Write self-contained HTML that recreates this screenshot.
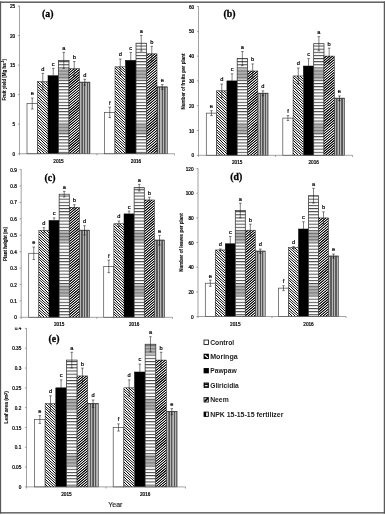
<!DOCTYPE html>
<html><head><meta charset="utf-8"><title>Figure</title>
<style>
html,body{margin:0;padding:0;background:#fff;}
body{width:385px;height:515px;overflow:hidden;}
svg{display:block;}
text{font-family:"Liberation Sans", sans-serif;}
.t{font-size:4.7px;fill:#000;stroke:#000;stroke-width:0.22px;}
.s{font-size:5.7px;fill:#000;stroke:#000;stroke-width:0.2px;text-anchor:middle;}
.yt{font-size:4.45px;font-weight:bold;fill:#111;stroke:#111;stroke-width:0.12px;text-anchor:middle;}
.pl{font-family:"Liberation Serif", serif;font-weight:bold;font-size:9.8px;fill:#000;stroke:#000;stroke-width:0.3px;text-anchor:middle;}
.lg{font-size:7.1px;font-weight:bold;fill:#222;}
</style></head><body>
<svg width="385" height="515" viewBox="0 0 385 515">
<defs>
<pattern id="pG" patternUnits="userSpaceOnUse" width="4" height="3.125" y="1.81">
<rect width="4" height="3.125" fill="#fff"/><rect width="4" height="1.0" fill="#444"/></pattern>
<pattern id="pG2" patternUnits="userSpaceOnUse" width="4" height="3.17" y="2.8">
<rect width="4" height="3.17" fill="#fff"/><rect width="4" height="1.0" fill="#444"/></pattern>
<linearGradient id="pK" x1="0" y1="0" x2="0.25" y2="0" spreadMethod="repeat">
<stop offset="0" stop-color="#555"/><stop offset="0.19" stop-color="#555"/><stop offset="0.30" stop-color="#b6b6b6"/>
<stop offset="0.70" stop-color="#b6b6b6"/><stop offset="0.81" stop-color="#555"/><stop offset="1" stop-color="#555"/></linearGradient>
<linearGradient id="mo1" gradientUnits="userSpaceOnUse" x1="0" y1="0" x2="0" y2="515">

<stop offset="0.13029" stop-color="#888" stop-opacity="0"/>
<stop offset="0.13612" stop-color="#888" stop-opacity="0.66"/>
<stop offset="0.15243" stop-color="#888" stop-opacity="0.66"/>
<stop offset="0.15825" stop-color="#888" stop-opacity="0"/>
<stop offset="0.23573" stop-color="#888" stop-opacity="0"/>
<stop offset="0.24155" stop-color="#888" stop-opacity="0.66"/>
<stop offset="0.25786" stop-color="#888" stop-opacity="0.66"/>
<stop offset="0.26369" stop-color="#888" stop-opacity="0"/>
<stop offset="0.34058" stop-color="#888" stop-opacity="0"/>
<stop offset="0.34641" stop-color="#888" stop-opacity="0.66"/>
<stop offset="0.36272" stop-color="#888" stop-opacity="0.66"/>
<stop offset="0.36854" stop-color="#888" stop-opacity="0"/>
<stop offset="0.44524" stop-color="#888" stop-opacity="0"/>
<stop offset="0.45107" stop-color="#888" stop-opacity="0.66"/>
<stop offset="0.46738" stop-color="#888" stop-opacity="0.66"/>
<stop offset="0.47320" stop-color="#888" stop-opacity="0"/>
<stop offset="0.55010" stop-color="#888" stop-opacity="0"/>
<stop offset="0.55592" stop-color="#888" stop-opacity="0.66"/>
<stop offset="0.57223" stop-color="#888" stop-opacity="0.66"/>
<stop offset="0.57806" stop-color="#888" stop-opacity="0"/>
</linearGradient>
<linearGradient id="mo2" gradientUnits="userSpaceOnUse" x1="0" y1="0" x2="0" y2="515">
<stop offset="0.66214" stop-color="#888" stop-opacity="0"/>
<stop offset="0.66796" stop-color="#888" stop-opacity="0.66"/>
<stop offset="0.68544" stop-color="#888" stop-opacity="0.66"/>
<stop offset="0.69126" stop-color="#888" stop-opacity="0"/>
<stop offset="0.77087" stop-color="#888" stop-opacity="0"/>
<stop offset="0.77670" stop-color="#888" stop-opacity="0.66"/>
<stop offset="0.79417" stop-color="#888" stop-opacity="0.66"/>
<stop offset="0.80000" stop-color="#888" stop-opacity="0"/>
<stop offset="0.87981" stop-color="#888" stop-opacity="0"/>
<stop offset="0.88563" stop-color="#888" stop-opacity="0.66"/>
<stop offset="0.90311" stop-color="#888" stop-opacity="0.66"/>
<stop offset="0.90893" stop-color="#888" stop-opacity="0"/>
</linearGradient>
<clipPath id="cl04"><rect x="0" y="327.4" width="30" height="10"/></clipPath>
<filter id="soft" x="-2%" y="-2%" width="104%" height="104%"><feGaussianBlur stdDeviation="0.26"/></filter><filter id="contrast" x="0" y="0" width="100%" height="100%" color-interpolation-filters="sRGB"><feComponentTransfer><feFuncR type="linear" slope="1.7" intercept="-0.32"/><feFuncG type="linear" slope="1.7" intercept="-0.32"/><feFuncB type="linear" slope="1.7" intercept="-0.32"/></feComponentTransfer></filter><filter id="contrast2" x="0" y="0" width="100%" height="100%" color-interpolation-filters="sRGB"><feComponentTransfer><feFuncR type="linear" slope="1.35" intercept="-0.16"/><feFuncG type="linear" slope="1.35" intercept="-0.16"/><feFuncB type="linear" slope="1.35" intercept="-0.16"/></feComponentTransfer></filter><filter id="softb" x="-2%" y="-2%" width="104%" height="104%"><feGaussianBlur stdDeviation="0.01"/></filter>
</defs>
<rect width="385" height="515" fill="#fff"/>
<g filter="url(#softb)"><rect x="27.00" y="103.52" width="10.50" height="50.23" fill="#fff" stroke="#4a4a4a" stroke-width="0.7"/>
<rect x="48.00" y="75.74" width="10.50" height="78.01" fill="#000" stroke="#000" stroke-width="0.5"/>
<rect x="58.50" y="60.37" width="10.50" height="93.38" fill="url(#pG)"/>
<rect x="58.50" y="60.37" width="10.50" height="93.38" fill="url(#mo1)"/>
<rect x="58.50" y="60.37" width="10.50" height="93.38" fill="none" stroke="#333" stroke-width="0.75"/>
<rect x="79.50" y="82.24" width="10.50" height="71.51" fill="url(#pK)" stroke="#444" stroke-width="0.5"/><path d="M79.50 82.24h10.50" stroke="#333" stroke-width="0.8"/>
<rect x="104.50" y="112.38" width="10.50" height="41.37" fill="#fff" stroke="#4a4a4a" stroke-width="0.7"/>
<rect x="125.50" y="60.37" width="10.50" height="93.38" fill="#000" stroke="#000" stroke-width="0.5"/>
<rect x="136.00" y="43.23" width="10.50" height="110.52" fill="url(#pG)"/>
<rect x="136.00" y="43.23" width="10.50" height="110.52" fill="url(#mo1)"/>
<rect x="136.00" y="43.23" width="10.50" height="110.52" fill="none" stroke="#333" stroke-width="0.75"/>
<rect x="157.00" y="86.97" width="10.50" height="66.78" fill="url(#pK)" stroke="#444" stroke-width="0.5"/><path d="M157.00 86.97h10.50" stroke="#333" stroke-width="0.8"/>
<rect x="206.30" y="113.14" width="10.30" height="42.16" fill="#fff" stroke="#4a4a4a" stroke-width="0.7"/>
<rect x="226.90" y="80.90" width="10.30" height="74.40" fill="#000" stroke="#000" stroke-width="0.5"/>
<rect x="237.20" y="58.58" width="10.30" height="96.72" fill="url(#pG)"/>
<rect x="237.20" y="58.58" width="10.30" height="96.72" fill="url(#mo1)"/>
<rect x="237.20" y="58.58" width="10.30" height="96.72" fill="none" stroke="#333" stroke-width="0.75"/>
<rect x="257.80" y="93.30" width="10.30" height="62.00" fill="url(#pK)" stroke="#444" stroke-width="0.5"/><path d="M257.80 93.30h10.30" stroke="#333" stroke-width="0.8"/>
<rect x="282.80" y="118.10" width="10.30" height="37.20" fill="#fff" stroke="#4a4a4a" stroke-width="0.7"/>
<rect x="303.40" y="66.02" width="10.30" height="89.28" fill="#000" stroke="#000" stroke-width="0.5"/>
<rect x="313.70" y="43.70" width="10.30" height="111.60" fill="url(#pG)"/>
<rect x="313.70" y="43.70" width="10.30" height="111.60" fill="url(#mo1)"/>
<rect x="313.70" y="43.70" width="10.30" height="111.60" fill="none" stroke="#333" stroke-width="0.75"/>
<rect x="334.30" y="98.26" width="10.30" height="57.04" fill="url(#pK)" stroke="#444" stroke-width="0.5"/><path d="M334.30 98.26h10.30" stroke="#333" stroke-width="0.8"/>
<rect x="28.70" y="253.30" width="10.15" height="64.00" fill="#fff" stroke="#4a4a4a" stroke-width="0.7"/>
<rect x="49.00" y="220.47" width="10.15" height="96.83" fill="#000" stroke="#000" stroke-width="0.5"/>
<rect x="59.15" y="194.22" width="10.15" height="123.08" fill="url(#pG)"/>
<rect x="59.15" y="194.22" width="10.15" height="123.08" fill="url(#mo1)"/>
<rect x="59.15" y="194.22" width="10.15" height="123.08" fill="none" stroke="#333" stroke-width="0.75"/>
<rect x="79.45" y="230.32" width="10.15" height="86.98" fill="url(#pK)" stroke="#444" stroke-width="0.5"/><path d="M79.45 230.32h10.15" stroke="#333" stroke-width="0.8"/>
<rect x="103.70" y="266.43" width="10.15" height="50.87" fill="#fff" stroke="#4a4a4a" stroke-width="0.7"/>
<rect x="124.00" y="213.91" width="10.15" height="103.39" fill="#000" stroke="#000" stroke-width="0.5"/>
<rect x="134.15" y="187.65" width="10.15" height="129.65" fill="url(#pG)"/>
<rect x="134.15" y="187.65" width="10.15" height="129.65" fill="url(#mo1)"/>
<rect x="134.15" y="187.65" width="10.15" height="129.65" fill="none" stroke="#333" stroke-width="0.75"/>
<rect x="154.45" y="240.17" width="10.15" height="77.13" fill="url(#pK)" stroke="#444" stroke-width="0.5"/><path d="M154.45 240.17h10.15" stroke="#333" stroke-width="0.8"/>
<rect x="205.30" y="283.22" width="10.00" height="33.28" fill="#fff" stroke="#4a4a4a" stroke-width="0.7"/>
<rect x="225.30" y="243.78" width="10.00" height="72.72" fill="#000" stroke="#000" stroke-width="0.5"/>
<rect x="235.30" y="210.50" width="10.00" height="106.00" fill="url(#pG)"/>
<rect x="235.30" y="210.50" width="10.00" height="106.00" fill="url(#mo1)"/>
<rect x="235.30" y="210.50" width="10.00" height="106.00" fill="none" stroke="#333" stroke-width="0.75"/>
<rect x="255.30" y="251.18" width="10.00" height="65.32" fill="url(#pK)" stroke="#444" stroke-width="0.5"/><path d="M255.30 251.18h10.00" stroke="#333" stroke-width="0.8"/>
<rect x="278.50" y="288.15" width="10.00" height="28.35" fill="#fff" stroke="#4a4a4a" stroke-width="0.7"/>
<rect x="298.50" y="228.99" width="10.00" height="87.51" fill="#000" stroke="#000" stroke-width="0.5"/>
<rect x="308.50" y="195.71" width="10.00" height="120.79" fill="url(#pG)"/>
<rect x="308.50" y="195.71" width="10.00" height="120.79" fill="url(#mo1)"/>
<rect x="308.50" y="195.71" width="10.00" height="120.79" fill="none" stroke="#333" stroke-width="0.75"/>
<rect x="328.50" y="256.11" width="10.00" height="60.39" fill="url(#pK)" stroke="#444" stroke-width="0.5"/><path d="M328.50 256.11h10.00" stroke="#333" stroke-width="0.8"/>
<rect x="34.50" y="419.54" width="10.65" height="67.36" fill="#fff" stroke="#4a4a4a" stroke-width="0.7"/>
<rect x="55.80" y="387.84" width="10.65" height="99.06" fill="#000" stroke="#000" stroke-width="0.5"/>
<rect x="66.45" y="360.10" width="10.65" height="126.80" fill="url(#pG2)"/>
<rect x="66.45" y="360.10" width="10.65" height="126.80" fill="url(#mo2)"/>
<rect x="66.45" y="360.10" width="10.65" height="126.80" fill="none" stroke="#333" stroke-width="0.75"/>
<rect x="87.75" y="403.69" width="10.65" height="83.21" fill="url(#pK)" stroke="#444" stroke-width="0.5"/><path d="M87.75 403.69h10.65" stroke="#333" stroke-width="0.8"/>
<rect x="113.20" y="427.46" width="10.65" height="59.44" fill="#fff" stroke="#4a4a4a" stroke-width="0.7"/>
<rect x="134.50" y="371.99" width="10.65" height="114.91" fill="#000" stroke="#000" stroke-width="0.5"/>
<rect x="145.15" y="344.25" width="10.65" height="142.65" fill="url(#pG2)"/>
<rect x="145.15" y="344.25" width="10.65" height="142.65" fill="url(#mo2)"/>
<rect x="145.15" y="344.25" width="10.65" height="142.65" fill="none" stroke="#333" stroke-width="0.75"/>
<rect x="166.45" y="411.61" width="10.65" height="75.29" fill="url(#pK)" stroke="#444" stroke-width="0.5"/><path d="M166.45 411.61h10.65" stroke="#333" stroke-width="0.8"/>
<rect x="204.0" y="340.05" width="4.5" height="4.5" fill="#fff" stroke="#111" stroke-width="0.85"/>
<rect x="203.6" y="353.75" width="5.3" height="5.3" fill="#000"/><path d="M205.20 355.45L207.50 357.45" stroke="#fff" stroke-width="1.15" stroke-linecap="round"/>
<rect x="203.6" y="368.05" width="5.3" height="5.3" fill="#000"/>
<rect x="203.6" y="382.55" width="5.3" height="5.3" fill="#000"/><rect x="204.80" y="385.15" width="2.9" height="1.1" fill="#fff"/><rect x="204.80" y="383.65" width="2.9" height="0.45" fill="#999"/>
<rect x="204.0" y="397.55" width="4.5" height="4.5" fill="#c8c8c8" stroke="#222" stroke-width="0.85"/><path d="M204.60 401.45L207.90 398.15" stroke="#000" stroke-width="1.6"/>
<rect x="204.0" y="412.05" width="4.5" height="4.5" fill="#d8d8d8" stroke="#111" stroke-width="0.85"/><rect x="204.00" y="412.05" width="2.0" height="4.5" fill="#000"/></g><g filter="url(#contrast)"><clipPath id="c1"><rect x="37.50" y="81.65" width="10.50" height="72.10"/></clipPath><rect x="37.50" y="81.65" width="10.50" height="72.10" fill="#fff"/><path clip-path="url(#c1)" d="M37.00 71.11L48.50 81.47M37.00 73.63L48.50 83.99M37.00 76.15L48.50 86.51M37.00 78.67L48.50 89.03M37.00 81.19L48.50 91.55M37.00 83.71L48.50 94.07M37.00 86.23L48.50 96.59M37.00 88.75L48.50 99.11M37.00 91.27L48.50 101.63M37.00 93.79L48.50 104.15M37.00 96.31L48.50 106.67M37.00 98.83L48.50 109.19M37.00 101.35L48.50 111.71M37.00 103.87L48.50 114.23M37.00 106.39L48.50 116.75M37.00 108.91L48.50 119.27M37.00 111.43L48.50 121.79M37.00 113.95L48.50 124.31M37.00 116.47L48.50 126.83M37.00 118.99L48.50 129.35M37.00 121.51L48.50 131.87M37.00 124.03L48.50 134.39M37.00 126.55L48.50 136.91M37.00 129.07L48.50 139.43M37.00 131.59L48.50 141.95M37.00 134.11L48.50 144.47M37.00 136.63L48.50 146.99M37.00 139.15L48.50 149.51M37.00 141.67L48.50 152.03M37.00 144.19L48.50 154.55M37.00 146.71L48.50 157.07M37.00 149.23L48.50 159.59M37.00 151.75L48.50 162.11M37.00 154.27L48.50 164.63" stroke="#000" stroke-width="0.97" fill="none"/>
<clipPath id="c3"><rect x="115.00" y="66.87" width="10.50" height="86.88"/></clipPath><rect x="115.00" y="66.87" width="10.50" height="86.88" fill="#fff"/><path clip-path="url(#c3)" d="M114.50 57.74L126.00 68.09M114.50 60.26L126.00 70.61M114.50 62.78L126.00 73.13M114.50 65.30L126.00 75.65M114.50 67.82L126.00 78.17M114.50 70.34L126.00 80.69M114.50 72.86L126.00 83.21M114.50 75.38L126.00 85.73M114.50 77.90L126.00 88.25M114.50 80.42L126.00 90.77M114.50 82.94L126.00 93.29M114.50 85.46L126.00 95.81M114.50 87.98L126.00 98.33M114.50 90.50L126.00 100.85M114.50 93.02L126.00 103.37M114.50 95.54L126.00 105.89M114.50 98.06L126.00 108.41M114.50 100.58L126.00 110.93M114.50 103.10L126.00 113.45M114.50 105.62L126.00 115.97M114.50 108.14L126.00 118.49M114.50 110.66L126.00 121.01M114.50 113.18L126.00 123.53M114.50 115.70L126.00 126.05M114.50 118.22L126.00 128.57M114.50 120.74L126.00 131.09M114.50 123.26L126.00 133.61M114.50 125.78L126.00 136.13M114.50 128.30L126.00 138.65M114.50 130.82L126.00 141.17M114.50 133.34L126.00 143.69M114.50 135.86L126.00 146.21M114.50 138.38L126.00 148.73M114.50 140.90L126.00 151.25M114.50 143.42L126.00 153.77M114.50 145.94L126.00 156.29M114.50 148.46L126.00 158.81M114.50 150.98L126.00 161.33M114.50 153.50L126.00 163.85" stroke="#000" stroke-width="0.97" fill="none"/>
<clipPath id="c5"><rect x="216.60" y="90.82" width="10.30" height="64.48"/></clipPath><rect x="216.60" y="90.82" width="10.30" height="64.48" fill="#fff"/><path clip-path="url(#c5)" d="M216.10 81.18L227.40 91.35M216.10 83.70L227.40 93.87M216.10 86.22L227.40 96.39M216.10 88.74L227.40 98.91M216.10 91.26L227.40 101.43M216.10 93.78L227.40 103.95M216.10 96.30L227.40 106.47M216.10 98.82L227.40 108.99M216.10 101.34L227.40 111.51M216.10 103.86L227.40 114.03M216.10 106.38L227.40 116.55M216.10 108.90L227.40 119.07M216.10 111.42L227.40 121.59M216.10 113.94L227.40 124.11M216.10 116.46L227.40 126.63M216.10 118.98L227.40 129.15M216.10 121.50L227.40 131.67M216.10 124.02L227.40 134.19M216.10 126.54L227.40 136.71M216.10 129.06L227.40 139.23M216.10 131.58L227.40 141.75M216.10 134.10L227.40 144.27M216.10 136.62L227.40 146.79M216.10 139.14L227.40 149.31M216.10 141.66L227.40 151.83M216.10 144.18L227.40 154.35M216.10 146.70L227.40 156.87M216.10 149.22L227.40 159.39M216.10 151.74L227.40 161.91M216.10 154.26L227.40 164.43" stroke="#000" stroke-width="0.97" fill="none"/>
<clipPath id="c7"><rect x="293.10" y="75.94" width="10.30" height="79.36"/></clipPath><rect x="293.10" y="75.94" width="10.30" height="79.36" fill="#fff"/><path clip-path="url(#c7)" d="M292.60 66.90L303.90 77.07M292.60 69.42L303.90 79.59M292.60 71.94L303.90 82.11M292.60 74.46L303.90 84.63M292.60 76.98L303.90 87.15M292.60 79.50L303.90 89.67M292.60 82.02L303.90 92.19M292.60 84.54L303.90 94.71M292.60 87.06L303.90 97.23M292.60 89.58L303.90 99.75M292.60 92.10L303.90 102.27M292.60 94.62L303.90 104.79M292.60 97.14L303.90 107.31M292.60 99.66L303.90 109.83M292.60 102.18L303.90 112.35M292.60 104.70L303.90 114.87M292.60 107.22L303.90 117.39M292.60 109.74L303.90 119.91M292.60 112.26L303.90 122.43M292.60 114.78L303.90 124.95M292.60 117.30L303.90 127.47M292.60 119.82L303.90 129.99M292.60 122.34L303.90 132.51M292.60 124.86L303.90 135.03M292.60 127.38L303.90 137.55M292.60 129.90L303.90 140.07M292.60 132.42L303.90 142.59M292.60 134.94L303.90 145.11M292.60 137.46L303.90 147.63M292.60 139.98L303.90 150.15M292.60 142.50L303.90 152.67M292.60 145.02L303.90 155.19M292.60 147.54L303.90 157.71M292.60 150.06L303.90 160.23M292.60 152.58L303.90 162.75M292.60 155.10L303.90 165.27" stroke="#000" stroke-width="0.97" fill="none"/>
<clipPath id="c9"><rect x="38.85" y="230.32" width="10.15" height="86.98"/></clipPath><rect x="38.85" y="230.32" width="10.15" height="86.98" fill="#fff"/><path clip-path="url(#c9)" d="M38.35 221.01L49.50 231.05M38.35 223.53L49.50 233.57M38.35 226.05L49.50 236.09M38.35 228.57L49.50 238.61M38.35 231.09L49.50 241.13M38.35 233.61L49.50 243.65M38.35 236.13L49.50 246.17M38.35 238.65L49.50 248.69M38.35 241.17L49.50 251.21M38.35 243.69L49.50 253.73M38.35 246.21L49.50 256.25M38.35 248.73L49.50 258.77M38.35 251.25L49.50 261.29M38.35 253.77L49.50 263.81M38.35 256.29L49.50 266.33M38.35 258.81L49.50 268.85M38.35 261.33L49.50 271.37M38.35 263.85L49.50 273.89M38.35 266.37L49.50 276.41M38.35 268.89L49.50 278.93M38.35 271.41L49.50 281.45M38.35 273.93L49.50 283.97M38.35 276.45L49.50 286.49M38.35 278.97L49.50 289.01M38.35 281.49L49.50 291.53M38.35 284.01L49.50 294.05M38.35 286.53L49.50 296.57M38.35 289.05L49.50 299.09M38.35 291.57L49.50 301.61M38.35 294.09L49.50 304.13M38.35 296.61L49.50 306.65M38.35 299.13L49.50 309.17M38.35 301.65L49.50 311.69M38.35 304.17L49.50 314.21M38.35 306.69L49.50 316.73M38.35 309.21L49.50 319.25M38.35 311.73L49.50 321.77M38.35 314.25L49.50 324.29M38.35 316.77L49.50 326.81" stroke="#000" stroke-width="0.97" fill="none"/>
<clipPath id="c11"><rect x="113.85" y="223.76" width="10.15" height="93.54"/></clipPath><rect x="113.85" y="223.76" width="10.15" height="93.54" fill="#fff"/><path clip-path="url(#c11)" d="M113.35 215.46L124.50 225.50M113.35 217.98L124.50 228.02M113.35 220.50L124.50 230.54M113.35 223.02L124.50 233.06M113.35 225.54L124.50 235.58M113.35 228.06L124.50 238.10M113.35 230.58L124.50 240.62M113.35 233.10L124.50 243.14M113.35 235.62L124.50 245.66M113.35 238.14L124.50 248.18M113.35 240.66L124.50 250.70M113.35 243.18L124.50 253.22M113.35 245.70L124.50 255.74M113.35 248.22L124.50 258.26M113.35 250.74L124.50 260.78M113.35 253.26L124.50 263.30M113.35 255.78L124.50 265.82M113.35 258.30L124.50 268.34M113.35 260.82L124.50 270.86M113.35 263.34L124.50 273.38M113.35 265.86L124.50 275.90M113.35 268.38L124.50 278.42M113.35 270.90L124.50 280.94M113.35 273.42L124.50 283.46M113.35 275.94L124.50 285.98M113.35 278.46L124.50 288.50M113.35 280.98L124.50 291.02M113.35 283.50L124.50 293.54M113.35 286.02L124.50 296.06M113.35 288.54L124.50 298.58M113.35 291.06L124.50 301.10M113.35 293.58L124.50 303.62M113.35 296.10L124.50 306.14M113.35 298.62L124.50 308.66M113.35 301.14L124.50 311.18M113.35 303.66L124.50 313.70M113.35 306.18L124.50 316.22M113.35 308.70L124.50 318.74M113.35 311.22L124.50 321.26M113.35 313.74L124.50 323.78M113.35 316.26L124.50 326.30" stroke="#000" stroke-width="0.97" fill="none"/>
<clipPath id="c13"><rect x="215.30" y="249.94" width="10.00" height="66.56"/></clipPath><rect x="215.30" y="249.94" width="10.00" height="66.56" fill="#fff"/><path clip-path="url(#c13)" d="M214.80 241.29L225.80 251.19M214.80 243.81L225.80 253.71M214.80 246.33L225.80 256.23M214.80 248.85L225.80 258.75M214.80 251.37L225.80 261.27M214.80 253.89L225.80 263.79M214.80 256.41L225.80 266.31M214.80 258.93L225.80 268.83M214.80 261.45L225.80 271.35M214.80 263.97L225.80 273.87M214.80 266.49L225.80 276.39M214.80 269.01L225.80 278.91M214.80 271.53L225.80 281.43M214.80 274.05L225.80 283.95M214.80 276.57L225.80 286.47M214.80 279.09L225.80 288.99M214.80 281.61L225.80 291.51M214.80 284.13L225.80 294.03M214.80 286.65L225.80 296.55M214.80 289.17L225.80 299.07M214.80 291.69L225.80 301.59M214.80 294.21L225.80 304.11M214.80 296.73L225.80 306.63M214.80 299.25L225.80 309.15M214.80 301.77L225.80 311.67M214.80 304.29L225.80 314.19M214.80 306.81L225.80 316.71M214.80 309.33L225.80 319.23M214.80 311.85L225.80 321.75M214.80 314.37L225.80 324.27M214.80 316.89L225.80 326.79" stroke="#000" stroke-width="0.97" fill="none"/>
<clipPath id="c15"><rect x="288.50" y="247.48" width="10.00" height="69.02"/></clipPath><rect x="288.50" y="247.48" width="10.00" height="69.02" fill="#fff"/><path clip-path="url(#c15)" d="M288.00 239.16L299.00 249.06M288.00 241.68L299.00 251.58M288.00 244.20L299.00 254.10M288.00 246.72L299.00 256.62M288.00 249.24L299.00 259.14M288.00 251.76L299.00 261.66M288.00 254.28L299.00 264.18M288.00 256.80L299.00 266.70M288.00 259.32L299.00 269.22M288.00 261.84L299.00 271.74M288.00 264.36L299.00 274.26M288.00 266.88L299.00 276.78M288.00 269.40L299.00 279.30M288.00 271.92L299.00 281.82M288.00 274.44L299.00 284.34M288.00 276.96L299.00 286.86M288.00 279.48L299.00 289.38M288.00 282.00L299.00 291.90M288.00 284.52L299.00 294.42M288.00 287.04L299.00 296.94M288.00 289.56L299.00 299.46M288.00 292.08L299.00 301.98M288.00 294.60L299.00 304.50M288.00 297.12L299.00 307.02M288.00 299.64L299.00 309.54M288.00 302.16L299.00 312.06M288.00 304.68L299.00 314.58M288.00 307.20L299.00 317.10M288.00 309.72L299.00 319.62M288.00 312.24L299.00 322.14M288.00 314.76L299.00 324.66" stroke="#000" stroke-width="0.97" fill="none"/>
<clipPath id="c17"><rect x="45.15" y="403.69" width="10.65" height="83.21"/></clipPath><rect x="45.15" y="403.69" width="10.65" height="83.21" fill="#fff"/><path clip-path="url(#c17)" d="M44.65 393.00L56.30 403.49M44.65 395.52L56.30 406.01M44.65 398.04L56.30 408.53M44.65 400.56L56.30 411.05M44.65 403.08L56.30 413.57M44.65 405.60L56.30 416.09M44.65 408.12L56.30 418.61M44.65 410.64L56.30 421.13M44.65 413.16L56.30 423.65M44.65 415.68L56.30 426.17M44.65 418.20L56.30 428.69M44.65 420.72L56.30 431.21M44.65 423.24L56.30 433.73M44.65 425.76L56.30 436.25M44.65 428.28L56.30 438.77M44.65 430.80L56.30 441.29M44.65 433.32L56.30 443.81M44.65 435.84L56.30 446.33M44.65 438.36L56.30 448.85M44.65 440.88L56.30 451.37M44.65 443.40L56.30 453.89M44.65 445.92L56.30 456.41M44.65 448.44L56.30 458.93M44.65 450.96L56.30 461.45M44.65 453.48L56.30 463.97M44.65 456.00L56.30 466.49M44.65 458.52L56.30 469.01M44.65 461.04L56.30 471.53M44.65 463.56L56.30 474.05M44.65 466.08L56.30 476.57M44.65 468.60L56.30 479.09M44.65 471.12L56.30 481.61M44.65 473.64L56.30 484.13M44.65 476.16L56.30 486.65M44.65 478.68L56.30 489.17M44.65 481.20L56.30 491.69M44.65 483.72L56.30 494.21M44.65 486.24L56.30 496.73" stroke="#000" stroke-width="0.97" fill="none"/>
<clipPath id="c19"><rect x="123.85" y="387.84" width="10.65" height="99.06"/></clipPath><rect x="123.85" y="387.84" width="10.65" height="99.06" fill="#fff"/><path clip-path="url(#c19)" d="M123.35 378.18L135.00 388.67M123.35 380.70L135.00 391.19M123.35 383.22L135.00 393.71M123.35 385.74L135.00 396.23M123.35 388.26L135.00 398.75M123.35 390.78L135.00 401.27M123.35 393.30L135.00 403.79M123.35 395.82L135.00 406.31M123.35 398.34L135.00 408.83M123.35 400.86L135.00 411.35M123.35 403.38L135.00 413.87M123.35 405.90L135.00 416.39M123.35 408.42L135.00 418.91M123.35 410.94L135.00 421.43M123.35 413.46L135.00 423.95M123.35 415.98L135.00 426.47M123.35 418.50L135.00 428.99M123.35 421.02L135.00 431.51M123.35 423.54L135.00 434.03M123.35 426.06L135.00 436.55M123.35 428.58L135.00 439.07M123.35 431.10L135.00 441.59M123.35 433.62L135.00 444.11M123.35 436.14L135.00 446.63M123.35 438.66L135.00 449.15M123.35 441.18L135.00 451.67M123.35 443.70L135.00 454.19M123.35 446.22L135.00 456.71M123.35 448.74L135.00 459.23M123.35 451.26L135.00 461.75M123.35 453.78L135.00 464.27M123.35 456.30L135.00 466.79M123.35 458.82L135.00 469.31M123.35 461.34L135.00 471.83M123.35 463.86L135.00 474.35M123.35 466.38L135.00 476.87M123.35 468.90L135.00 479.39M123.35 471.42L135.00 481.91M123.35 473.94L135.00 484.43M123.35 476.46L135.00 486.95M123.35 478.98L135.00 489.47M123.35 481.50L135.00 491.99M123.35 484.02L135.00 494.51M123.35 486.54L135.00 497.03" stroke="#000" stroke-width="0.97" fill="none"/></g><g filter="url(#contrast2)"><clipPath id="c2"><rect x="69.00" y="68.65" width="10.50" height="85.10"/></clipPath><rect x="69.00" y="68.65" width="10.50" height="85.10" fill="#fff"/><path clip-path="url(#c2)" d="M68.50 68.52L80.00 58.87M68.50 71.04L80.00 61.39M68.50 73.56L80.00 63.91M68.50 76.08L80.00 66.43M68.50 78.60L80.00 68.95M68.50 81.12L80.00 71.47M68.50 83.64L80.00 73.99M68.50 86.16L80.00 76.51M68.50 88.68L80.00 79.03M68.50 91.20L80.00 81.55M68.50 93.72L80.00 84.07M68.50 96.24L80.00 86.59M68.50 98.76L80.00 89.11M68.50 101.28L80.00 91.63M68.50 103.80L80.00 94.15M68.50 106.32L80.00 96.67M68.50 108.84L80.00 99.19M68.50 111.36L80.00 101.71M68.50 113.88L80.00 104.23M68.50 116.40L80.00 106.75M68.50 118.92L80.00 109.27M68.50 121.44L80.00 111.79M68.50 123.96L80.00 114.31M68.50 126.48L80.00 116.83M68.50 129.00L80.00 119.35M68.50 131.52L80.00 121.87M68.50 134.04L80.00 124.39M68.50 136.56L80.00 126.91M68.50 139.08L80.00 129.43M68.50 141.60L80.00 131.95M68.50 144.12L80.00 134.47M68.50 146.64L80.00 136.99M68.50 149.16L80.00 139.51M68.50 151.68L80.00 142.03M68.50 154.20L80.00 144.55M68.50 156.72L80.00 147.07M68.50 159.24L80.00 149.59M68.50 161.76L80.00 152.11" stroke="#000" stroke-width="1.06" fill="none"/>
<clipPath id="c4"><rect x="146.50" y="53.87" width="10.50" height="99.88"/></clipPath><rect x="146.50" y="53.87" width="10.50" height="99.88" fill="#fff"/><path clip-path="url(#c4)" d="M146.00 53.89L157.50 44.24M146.00 56.41L157.50 46.76M146.00 58.93L157.50 49.28M146.00 61.45L157.50 51.80M146.00 63.97L157.50 54.32M146.00 66.49L157.50 56.84M146.00 69.01L157.50 59.36M146.00 71.53L157.50 61.88M146.00 74.05L157.50 64.40M146.00 76.57L157.50 66.92M146.00 79.09L157.50 69.44M146.00 81.61L157.50 71.96M146.00 84.13L157.50 74.48M146.00 86.65L157.50 77.00M146.00 89.17L157.50 79.52M146.00 91.69L157.50 82.04M146.00 94.21L157.50 84.56M146.00 96.73L157.50 87.08M146.00 99.25L157.50 89.60M146.00 101.77L157.50 92.12M146.00 104.29L157.50 94.64M146.00 106.81L157.50 97.16M146.00 109.33L157.50 99.68M146.00 111.85L157.50 102.20M146.00 114.37L157.50 104.72M146.00 116.89L157.50 107.24M146.00 119.41L157.50 109.76M146.00 121.93L157.50 112.28M146.00 124.45L157.50 114.80M146.00 126.97L157.50 117.32M146.00 129.49L157.50 119.84M146.00 132.01L157.50 122.36M146.00 134.53L157.50 124.88M146.00 137.05L157.50 127.40M146.00 139.57L157.50 129.92M146.00 142.09L157.50 132.44M146.00 144.61L157.50 134.96M146.00 147.13L157.50 137.48M146.00 149.65L157.50 140.00M146.00 152.17L157.50 142.52M146.00 154.69L157.50 145.04M146.00 157.21L157.50 147.56M146.00 159.73L157.50 150.08M146.00 162.25L157.50 152.60" stroke="#000" stroke-width="1.06" fill="none"/>
<clipPath id="c6"><rect x="247.50" y="70.98" width="10.30" height="84.32"/></clipPath><rect x="247.50" y="70.98" width="10.30" height="84.32" fill="#fff"/><path clip-path="url(#c6)" d="M247.00 72.46L258.30 62.98M247.00 74.98L258.30 65.50M247.00 77.50L258.30 68.02M247.00 80.02L258.30 70.54M247.00 82.54L258.30 73.06M247.00 85.06L258.30 75.58M247.00 87.58L258.30 78.10M247.00 90.10L258.30 80.62M247.00 92.62L258.30 83.14M247.00 95.14L258.30 85.66M247.00 97.66L258.30 88.18M247.00 100.18L258.30 90.70M247.00 102.70L258.30 93.22M247.00 105.22L258.30 95.74M247.00 107.74L258.30 98.26M247.00 110.26L258.30 100.78M247.00 112.78L258.30 103.30M247.00 115.30L258.30 105.82M247.00 117.82L258.30 108.34M247.00 120.34L258.30 110.86M247.00 122.86L258.30 113.38M247.00 125.38L258.30 115.90M247.00 127.90L258.30 118.42M247.00 130.42L258.30 120.94M247.00 132.94L258.30 123.46M247.00 135.46L258.30 125.98M247.00 137.98L258.30 128.50M247.00 140.50L258.30 131.02M247.00 143.02L258.30 133.54M247.00 145.54L258.30 136.06M247.00 148.06L258.30 138.58M247.00 150.58L258.30 141.10M247.00 153.10L258.30 143.62M247.00 155.62L258.30 146.14M247.00 158.14L258.30 148.66M247.00 160.66L258.30 151.18M247.00 163.18L258.30 153.70" stroke="#000" stroke-width="1.06" fill="none"/>
<clipPath id="c8"><rect x="324.00" y="56.10" width="10.30" height="99.20"/></clipPath><rect x="324.00" y="56.10" width="10.30" height="99.20" fill="#fff"/><path clip-path="url(#c8)" d="M323.50 56.15L334.80 46.67M323.50 58.67L334.80 49.19M323.50 61.19L334.80 51.71M323.50 63.71L334.80 54.23M323.50 66.23L334.80 56.75M323.50 68.75L334.80 59.27M323.50 71.27L334.80 61.79M323.50 73.79L334.80 64.31M323.50 76.31L334.80 66.83M323.50 78.83L334.80 69.35M323.50 81.35L334.80 71.87M323.50 83.87L334.80 74.39M323.50 86.39L334.80 76.91M323.50 88.91L334.80 79.43M323.50 91.43L334.80 81.95M323.50 93.95L334.80 84.47M323.50 96.47L334.80 86.99M323.50 98.99L334.80 89.51M323.50 101.51L334.80 92.03M323.50 104.03L334.80 94.55M323.50 106.55L334.80 97.07M323.50 109.07L334.80 99.59M323.50 111.59L334.80 102.11M323.50 114.11L334.80 104.63M323.50 116.63L334.80 107.15M323.50 119.15L334.80 109.67M323.50 121.67L334.80 112.19M323.50 124.19L334.80 114.71M323.50 126.71L334.80 117.23M323.50 129.23L334.80 119.75M323.50 131.75L334.80 122.27M323.50 134.27L334.80 124.79M323.50 136.79L334.80 127.31M323.50 139.31L334.80 129.83M323.50 141.83L334.80 132.35M323.50 144.35L334.80 134.87M323.50 146.87L334.80 137.39M323.50 149.39L334.80 139.91M323.50 151.91L334.80 142.43M323.50 154.43L334.80 144.95M323.50 156.95L334.80 147.47M323.50 159.47L334.80 149.99M323.50 161.99L334.80 152.51M323.50 164.51L334.80 155.03" stroke="#000" stroke-width="1.06" fill="none"/>
<clipPath id="c10"><rect x="69.30" y="207.35" width="10.15" height="109.95"/></clipPath><rect x="69.30" y="207.35" width="10.15" height="109.95" fill="#fff"/><path clip-path="url(#c10)" d="M68.80 206.87L79.95 197.51M68.80 209.39L79.95 200.03M68.80 211.91L79.95 202.55M68.80 214.43L79.95 205.07M68.80 216.95L79.95 207.59M68.80 219.47L79.95 210.11M68.80 221.99L79.95 212.63M68.80 224.51L79.95 215.15M68.80 227.03L79.95 217.67M68.80 229.55L79.95 220.19M68.80 232.07L79.95 222.71M68.80 234.59L79.95 225.23M68.80 237.11L79.95 227.75M68.80 239.63L79.95 230.27M68.80 242.15L79.95 232.79M68.80 244.67L79.95 235.31M68.80 247.19L79.95 237.83M68.80 249.71L79.95 240.35M68.80 252.23L79.95 242.87M68.80 254.75L79.95 245.39M68.80 257.27L79.95 247.91M68.80 259.79L79.95 250.43M68.80 262.31L79.95 252.95M68.80 264.83L79.95 255.47M68.80 267.35L79.95 257.99M68.80 269.87L79.95 260.51M68.80 272.39L79.95 263.03M68.80 274.91L79.95 265.55M68.80 277.43L79.95 268.07M68.80 279.95L79.95 270.59M68.80 282.47L79.95 273.11M68.80 284.99L79.95 275.63M68.80 287.51L79.95 278.15M68.80 290.03L79.95 280.67M68.80 292.55L79.95 283.19M68.80 295.07L79.95 285.71M68.80 297.59L79.95 288.23M68.80 300.11L79.95 290.75M68.80 302.63L79.95 293.27M68.80 305.15L79.95 295.79M68.80 307.67L79.95 298.31M68.80 310.19L79.95 300.83M68.80 312.71L79.95 303.35M68.80 315.23L79.95 305.87M68.80 317.75L79.95 308.39M68.80 320.27L79.95 310.91M68.80 322.79L79.95 313.43M68.80 325.31L79.95 315.95" stroke="#000" stroke-width="1.06" fill="none"/>
<clipPath id="c12"><rect x="144.30" y="199.96" width="10.15" height="117.34"/></clipPath><rect x="144.30" y="199.96" width="10.15" height="117.34" fill="#fff"/><path clip-path="url(#c12)" d="M143.80 201.90L154.95 192.54M143.80 204.42L154.95 195.06M143.80 206.94L154.95 197.58M143.80 209.46L154.95 200.10M143.80 211.98L154.95 202.62M143.80 214.50L154.95 205.14M143.80 217.02L154.95 207.66M143.80 219.54L154.95 210.18M143.80 222.06L154.95 212.70M143.80 224.58L154.95 215.22M143.80 227.10L154.95 217.74M143.80 229.62L154.95 220.26M143.80 232.14L154.95 222.78M143.80 234.66L154.95 225.30M143.80 237.18L154.95 227.82M143.80 239.70L154.95 230.34M143.80 242.22L154.95 232.86M143.80 244.74L154.95 235.38M143.80 247.26L154.95 237.90M143.80 249.78L154.95 240.42M143.80 252.30L154.95 242.94M143.80 254.82L154.95 245.46M143.80 257.34L154.95 247.98M143.80 259.86L154.95 250.50M143.80 262.38L154.95 253.02M143.80 264.90L154.95 255.54M143.80 267.42L154.95 258.06M143.80 269.94L154.95 260.58M143.80 272.46L154.95 263.10M143.80 274.98L154.95 265.62M143.80 277.50L154.95 268.14M143.80 280.02L154.95 270.66M143.80 282.54L154.95 273.18M143.80 285.06L154.95 275.70M143.80 287.58L154.95 278.22M143.80 290.10L154.95 280.74M143.80 292.62L154.95 283.26M143.80 295.14L154.95 285.78M143.80 297.66L154.95 288.30M143.80 300.18L154.95 290.82M143.80 302.70L154.95 293.34M143.80 305.22L154.95 295.86M143.80 307.74L154.95 298.38M143.80 310.26L154.95 300.90M143.80 312.78L154.95 303.42M143.80 315.30L154.95 305.94M143.80 317.82L154.95 308.46M143.80 320.34L154.95 310.98M143.80 322.86L154.95 313.50M143.80 325.38L154.95 316.02" stroke="#000" stroke-width="1.06" fill="none"/>
<clipPath id="c14"><rect x="245.30" y="230.22" width="10.00" height="86.28"/></clipPath><rect x="245.30" y="230.22" width="10.00" height="86.28" fill="#fff"/><path clip-path="url(#c14)" d="M244.80 230.55L255.80 221.32M244.80 233.07L255.80 223.84M244.80 235.59L255.80 226.36M244.80 238.11L255.80 228.88M244.80 240.63L255.80 231.40M244.80 243.15L255.80 233.92M244.80 245.67L255.80 236.44M244.80 248.19L255.80 238.96M244.80 250.71L255.80 241.48M244.80 253.23L255.80 244.00M244.80 255.75L255.80 246.52M244.80 258.27L255.80 249.04M244.80 260.79L255.80 251.56M244.80 263.31L255.80 254.08M244.80 265.83L255.80 256.60M244.80 268.35L255.80 259.12M244.80 270.87L255.80 261.64M244.80 273.39L255.80 264.16M244.80 275.91L255.80 266.68M244.80 278.43L255.80 269.20M244.80 280.95L255.80 271.72M244.80 283.47L255.80 274.24M244.80 285.99L255.80 276.76M244.80 288.51L255.80 279.28M244.80 291.03L255.80 281.80M244.80 293.55L255.80 284.32M244.80 296.07L255.80 286.84M244.80 298.59L255.80 289.36M244.80 301.11L255.80 291.88M244.80 303.63L255.80 294.40M244.80 306.15L255.80 296.92M244.80 308.67L255.80 299.44M244.80 311.19L255.80 301.96M244.80 313.71L255.80 304.48M244.80 316.23L255.80 307.00M244.80 318.75L255.80 309.52M244.80 321.27L255.80 312.04M244.80 323.79L255.80 314.56M244.80 326.31L255.80 317.08" stroke="#000" stroke-width="1.06" fill="none"/>
<clipPath id="c16"><rect x="318.50" y="217.90" width="10.00" height="98.60"/></clipPath><rect x="318.50" y="217.90" width="10.00" height="98.60" fill="#fff"/><path clip-path="url(#c16)" d="M318.00 219.53L329.00 210.30M318.00 222.05L329.00 212.82M318.00 224.57L329.00 215.34M318.00 227.09L329.00 217.86M318.00 229.61L329.00 220.38M318.00 232.13L329.00 222.90M318.00 234.65L329.00 225.42M318.00 237.17L329.00 227.94M318.00 239.69L329.00 230.46M318.00 242.21L329.00 232.98M318.00 244.73L329.00 235.50M318.00 247.25L329.00 238.02M318.00 249.77L329.00 240.54M318.00 252.29L329.00 243.06M318.00 254.81L329.00 245.58M318.00 257.33L329.00 248.10M318.00 259.85L329.00 250.62M318.00 262.37L329.00 253.14M318.00 264.89L329.00 255.66M318.00 267.41L329.00 258.18M318.00 269.93L329.00 260.70M318.00 272.45L329.00 263.22M318.00 274.97L329.00 265.74M318.00 277.49L329.00 268.26M318.00 280.01L329.00 270.78M318.00 282.53L329.00 273.30M318.00 285.05L329.00 275.82M318.00 287.57L329.00 278.34M318.00 290.09L329.00 280.86M318.00 292.61L329.00 283.38M318.00 295.13L329.00 285.90M318.00 297.65L329.00 288.42M318.00 300.17L329.00 290.94M318.00 302.69L329.00 293.46M318.00 305.21L329.00 295.98M318.00 307.73L329.00 298.50M318.00 310.25L329.00 301.02M318.00 312.77L329.00 303.54M318.00 315.29L329.00 306.06M318.00 317.81L329.00 308.58M318.00 320.33L329.00 311.10M318.00 322.85L329.00 313.62M318.00 325.37L329.00 316.14" stroke="#000" stroke-width="1.06" fill="none"/>
<clipPath id="c18"><rect x="77.10" y="375.95" width="10.65" height="110.95"/></clipPath><rect x="77.10" y="375.95" width="10.65" height="110.95" fill="#fff"/><path clip-path="url(#c18)" d="M76.60 376.72L88.25 366.95M76.60 379.24L88.25 369.47M76.60 381.76L88.25 371.99M76.60 384.28L88.25 374.51M76.60 386.80L88.25 377.03M76.60 389.32L88.25 379.55M76.60 391.84L88.25 382.07M76.60 394.36L88.25 384.59M76.60 396.88L88.25 387.11M76.60 399.40L88.25 389.63M76.60 401.92L88.25 392.15M76.60 404.44L88.25 394.67M76.60 406.96L88.25 397.19M76.60 409.48L88.25 399.71M76.60 412.00L88.25 402.23M76.60 414.52L88.25 404.75M76.60 417.04L88.25 407.27M76.60 419.56L88.25 409.79M76.60 422.08L88.25 412.31M76.60 424.60L88.25 414.83M76.60 427.12L88.25 417.35M76.60 429.64L88.25 419.87M76.60 432.16L88.25 422.39M76.60 434.68L88.25 424.91M76.60 437.20L88.25 427.43M76.60 439.72L88.25 429.95M76.60 442.24L88.25 432.47M76.60 444.76L88.25 434.99M76.60 447.28L88.25 437.51M76.60 449.80L88.25 440.03M76.60 452.32L88.25 442.55M76.60 454.84L88.25 445.07M76.60 457.36L88.25 447.59M76.60 459.88L88.25 450.11M76.60 462.40L88.25 452.63M76.60 464.92L88.25 455.15M76.60 467.44L88.25 457.67M76.60 469.96L88.25 460.19M76.60 472.48L88.25 462.71M76.60 475.00L88.25 465.23M76.60 477.52L88.25 467.75M76.60 480.04L88.25 470.27M76.60 482.56L88.25 472.79M76.60 485.08L88.25 475.31M76.60 487.60L88.25 477.83M76.60 490.12L88.25 480.35M76.60 492.64L88.25 482.87M76.60 495.16L88.25 485.39" stroke="#000" stroke-width="1.06" fill="none"/>
<clipPath id="c20"><rect x="155.80" y="360.10" width="10.65" height="126.80"/></clipPath><rect x="155.80" y="360.10" width="10.65" height="126.80" fill="#fff"/><path clip-path="url(#c20)" d="M155.30 361.09L166.95 351.31M155.30 363.61L166.95 353.83M155.30 366.13L166.95 356.35M155.30 368.65L166.95 358.87M155.30 371.17L166.95 361.39M155.30 373.69L166.95 363.91M155.30 376.21L166.95 366.43M155.30 378.73L166.95 368.95M155.30 381.25L166.95 371.47M155.30 383.77L166.95 373.99M155.30 386.29L166.95 376.51M155.30 388.81L166.95 379.03M155.30 391.33L166.95 381.55M155.30 393.85L166.95 384.07M155.30 396.37L166.95 386.59M155.30 398.89L166.95 389.11M155.30 401.41L166.95 391.63M155.30 403.93L166.95 394.15M155.30 406.45L166.95 396.67M155.30 408.97L166.95 399.19M155.30 411.49L166.95 401.71M155.30 414.01L166.95 404.23M155.30 416.53L166.95 406.75M155.30 419.05L166.95 409.27M155.30 421.57L166.95 411.79M155.30 424.09L166.95 414.31M155.30 426.61L166.95 416.83M155.30 429.13L166.95 419.35M155.30 431.65L166.95 421.87M155.30 434.17L166.95 424.39M155.30 436.69L166.95 426.91M155.30 439.21L166.95 429.43M155.30 441.73L166.95 431.95M155.30 444.25L166.95 434.47M155.30 446.77L166.95 436.99M155.30 449.29L166.95 439.51M155.30 451.81L166.95 442.03M155.30 454.33L166.95 444.55M155.30 456.85L166.95 447.07M155.30 459.37L166.95 449.59M155.30 461.89L166.95 452.11M155.30 464.41L166.95 454.63M155.30 466.93L166.95 457.15M155.30 469.45L166.95 459.67M155.30 471.97L166.95 462.19M155.30 474.49L166.95 464.71M155.30 477.01L166.95 467.23M155.30 479.53L166.95 469.75M155.30 482.05L166.95 472.27M155.30 484.57L166.95 474.79M155.30 487.09L166.95 477.31M155.30 489.61L166.95 479.83M155.30 492.13L166.95 482.35M155.30 494.65L166.95 484.87M155.30 497.17L166.95 487.39" stroke="#000" stroke-width="1.06" fill="none"/></g><g><rect x="37.50" y="81.65" width="10.50" height="72.10" fill="none" stroke="#222" stroke-width="0.55"/>
<rect x="69.00" y="68.65" width="10.50" height="85.10" fill="none" stroke="#222" stroke-width="0.55"/>
<rect x="115.00" y="66.87" width="10.50" height="86.88" fill="none" stroke="#222" stroke-width="0.55"/>
<rect x="146.50" y="53.87" width="10.50" height="99.88" fill="none" stroke="#222" stroke-width="0.55"/>
<rect x="216.60" y="90.82" width="10.30" height="64.48" fill="none" stroke="#222" stroke-width="0.55"/>
<rect x="247.50" y="70.98" width="10.30" height="84.32" fill="none" stroke="#222" stroke-width="0.55"/>
<rect x="293.10" y="75.94" width="10.30" height="79.36" fill="none" stroke="#222" stroke-width="0.55"/>
<rect x="324.00" y="56.10" width="10.30" height="99.20" fill="none" stroke="#222" stroke-width="0.55"/>
<rect x="38.85" y="230.32" width="10.15" height="86.98" fill="none" stroke="#222" stroke-width="0.55"/>
<rect x="69.30" y="207.35" width="10.15" height="109.95" fill="none" stroke="#222" stroke-width="0.55"/>
<rect x="113.85" y="223.76" width="10.15" height="93.54" fill="none" stroke="#222" stroke-width="0.55"/>
<rect x="144.30" y="199.96" width="10.15" height="117.34" fill="none" stroke="#222" stroke-width="0.55"/>
<rect x="215.30" y="249.94" width="10.00" height="66.56" fill="none" stroke="#222" stroke-width="0.55"/>
<rect x="245.30" y="230.22" width="10.00" height="86.28" fill="none" stroke="#222" stroke-width="0.55"/>
<rect x="288.50" y="247.48" width="10.00" height="69.02" fill="none" stroke="#222" stroke-width="0.55"/>
<rect x="318.50" y="217.90" width="10.00" height="98.60" fill="none" stroke="#222" stroke-width="0.55"/>
<rect x="45.15" y="403.69" width="10.65" height="83.21" fill="none" stroke="#222" stroke-width="0.55"/>
<rect x="77.10" y="375.95" width="10.65" height="110.95" fill="none" stroke="#222" stroke-width="0.55"/>
<rect x="123.85" y="387.84" width="10.65" height="99.06" fill="none" stroke="#222" stroke-width="0.55"/>
<rect x="155.80" y="360.10" width="10.65" height="126.80" fill="none" stroke="#222" stroke-width="0.55"/></g>
<g filter="url(#soft)">
<rect x="0" y="1.5" width="385" height="1.35" fill="#4d4d4d"/>
<rect x="0" y="1.5" width="1.15" height="512" fill="#5a5a5a"/>
<rect x="383.75" y="1.5" width="1.25" height="512" fill="#5a5a5a"/>
<rect x="0" y="512.2" width="385" height="1.3" fill="#4d4d4d"/>
<g stroke="#6a6a6a" stroke-width="0.62" fill="none">
<path d="M19.5 5.7V153.75H174.5"/>
<path d="M17.90 153.75H19.5M17.90 124.20H19.5M17.90 94.65H19.5M17.90 65.10H19.5M17.90 35.55H19.5M17.90 6.00H19.5M19.50 153.75V155.35M97.00 153.75V155.35M174.50 153.75V155.35"/></g>
<text class="t" x="15.10" y="155.80" text-anchor="end">0</text>
<text class="t" x="15.10" y="126.25" text-anchor="end">5</text>
<text class="t" x="15.10" y="96.70" text-anchor="end">10</text>
<text class="t" x="15.10" y="67.15" text-anchor="end">15</text>
<text class="t" x="15.10" y="37.60" text-anchor="end">20</text>
<text class="t" x="15.10" y="8.05" text-anchor="end">25</text>
<path d="M32.25 98.02V109.01M31.00 98.02h2.5M31.00 109.01h2.5" stroke="#1a1a1a" stroke-width="0.55" fill="none"/>
<text class="s" x="32.25" y="95.42">e</text>
<path d="M42.75 73.37V89.92M41.50 73.37h2.5M41.50 89.92h2.5" stroke="#1a1a1a" stroke-width="0.55" fill="none"/>
<text class="s" x="42.75" y="70.77">d</text>
<path d="M53.25 68.35V75.74M52.00 68.35h2.5" stroke="#1a1a1a" stroke-width="0.55" fill="none"/>
<text class="s" x="53.25" y="65.75">c</text>
<path d="M63.75 52.39V68.35M62.50 52.39h2.5M62.50 68.35h2.5" stroke="#1a1a1a" stroke-width="0.55" fill="none"/>
<text class="s" x="63.75" y="49.79">a</text>
<path d="M74.25 61.55V75.74M73.00 61.55h2.5M73.00 75.74h2.5" stroke="#1a1a1a" stroke-width="0.55" fill="none"/>
<text class="s" x="74.25" y="58.95">b</text>
<path d="M84.75 79.28V85.19M83.50 79.28h2.5M83.50 85.19h2.5" stroke="#1a1a1a" stroke-width="0.55" fill="none"/>
<text class="s" x="84.75" y="76.68">d</text>
<text class="t" x="58.50" y="162.90" text-anchor="middle">2015</text>
<path d="M109.75 107.18V117.58M108.50 107.18h2.5M108.50 117.58h2.5" stroke="#1a1a1a" stroke-width="0.55" fill="none"/>
<text class="s" x="109.75" y="104.58">f</text>
<path d="M120.25 59.01V74.73M119.00 59.01h2.5M119.00 74.73h2.5" stroke="#1a1a1a" stroke-width="0.55" fill="none"/>
<text class="s" x="120.25" y="56.41">d</text>
<path d="M130.75 52.51V60.37M129.50 52.51h2.5" stroke="#1a1a1a" stroke-width="0.55" fill="none"/>
<text class="s" x="130.75" y="49.91">c</text>
<path d="M141.25 35.37V51.09M140.00 35.37h2.5M140.00 51.09h2.5" stroke="#1a1a1a" stroke-width="0.55" fill="none"/>
<text class="s" x="141.25" y="32.77">a</text>
<path d="M151.75 46.37V61.38M150.50 46.37h2.5M150.50 61.38h2.5" stroke="#1a1a1a" stroke-width="0.55" fill="none"/>
<text class="s" x="151.75" y="43.77">b</text>
<path d="M162.25 84.60V89.33M161.00 84.60h2.5M161.00 89.33h2.5" stroke="#1a1a1a" stroke-width="0.55" fill="none"/>
<text class="s" x="162.25" y="82.00">e</text>
<text class="t" x="136.00" y="162.90" text-anchor="middle">2016</text>
<text class="yt" transform="translate(5.90 79.80) rotate(-90)" textLength="41.6" lengthAdjust="spacingAndGlyphs">Fruit yield (Mg ha<tspan font-size="3px" dy="-1.6">-1</tspan><tspan dy="1.6">)</tspan></text>
<text class="pl" x="47.70" y="16.75">(a)</text>
<g stroke="#6a6a6a" stroke-width="0.62" fill="none">
<path d="M198.5 6.2V155.3H352.5"/>
<path d="M196.90 155.30H198.5M196.90 130.50H198.5M196.90 105.70H198.5M196.90 80.90H198.5M196.90 56.10H198.5M196.90 31.30H198.5M196.90 6.50H198.5M198.50 155.3V156.90M275.50 155.3V156.90M352.50 155.3V156.90"/></g>
<text class="t" x="194.10" y="157.35" text-anchor="end">0</text>
<text class="t" x="194.10" y="132.55" text-anchor="end">10</text>
<text class="t" x="194.10" y="107.75" text-anchor="end">20</text>
<text class="t" x="194.10" y="82.95" text-anchor="end">30</text>
<text class="t" x="194.10" y="58.15" text-anchor="end">40</text>
<text class="t" x="194.10" y="33.35" text-anchor="end">50</text>
<text class="t" x="194.10" y="8.55" text-anchor="end">60</text>
<path d="M211.45 110.66V115.62M210.20 110.66h2.5M210.20 115.62h2.5" stroke="#1a1a1a" stroke-width="0.55" fill="none"/>
<text class="s" x="211.45" y="108.06">e</text>
<path d="M221.75 84.00V97.64M220.50 84.00h2.5M220.50 97.64h2.5" stroke="#1a1a1a" stroke-width="0.55" fill="none"/>
<text class="s" x="221.75" y="81.40">d</text>
<path d="M232.05 73.83V80.90M230.80 73.83h2.5" stroke="#1a1a1a" stroke-width="0.55" fill="none"/>
<text class="s" x="232.05" y="71.23">c</text>
<path d="M242.35 51.51V65.65M241.10 51.51h2.5M241.10 65.65h2.5" stroke="#1a1a1a" stroke-width="0.55" fill="none"/>
<text class="s" x="242.35" y="48.91">a</text>
<path d="M252.65 63.91V78.05M251.40 63.91h2.5M251.40 78.05h2.5" stroke="#1a1a1a" stroke-width="0.55" fill="none"/>
<text class="s" x="252.65" y="61.31">b</text>
<path d="M262.95 90.82V95.78M261.70 90.82h2.5M261.70 95.78h2.5" stroke="#1a1a1a" stroke-width="0.55" fill="none"/>
<text class="s" x="262.95" y="88.22">d</text>
<text class="t" x="237.20" y="164.10" text-anchor="middle">2015</text>
<path d="M287.95 115.62V120.58M286.70 115.62h2.5M286.70 120.58h2.5" stroke="#1a1a1a" stroke-width="0.55" fill="none"/>
<text class="s" x="287.95" y="113.02">f</text>
<path d="M298.25 68.00V83.88M297.00 68.00h2.5M297.00 83.88h2.5" stroke="#1a1a1a" stroke-width="0.55" fill="none"/>
<text class="s" x="298.25" y="65.40">d</text>
<path d="M308.55 58.58V66.02M307.30 58.58h2.5" stroke="#1a1a1a" stroke-width="0.55" fill="none"/>
<text class="s" x="308.55" y="55.98">c</text>
<path d="M318.85 36.63V50.77M317.60 36.63h2.5M317.60 50.77h2.5" stroke="#1a1a1a" stroke-width="0.55" fill="none"/>
<text class="s" x="318.85" y="34.03">a</text>
<path d="M329.15 48.16V64.04M327.90 48.16h2.5M327.90 64.04h2.5" stroke="#1a1a1a" stroke-width="0.55" fill="none"/>
<text class="s" x="329.15" y="45.56">b</text>
<path d="M339.45 95.90V100.62M338.20 95.90h2.5M338.20 100.62h2.5" stroke="#1a1a1a" stroke-width="0.55" fill="none"/>
<text class="s" x="339.45" y="93.30">e</text>
<text class="t" x="313.70" y="164.10" text-anchor="middle">2016</text>
<text class="yt" transform="translate(185.00 81.50) rotate(-90)" textLength="56.1" lengthAdjust="spacingAndGlyphs">Number of fruits per plant</text>
<text class="pl" x="229.60" y="16.70">(b)</text>
<g stroke="#6a6a6a" stroke-width="0.62" fill="none">
<path d="M21.2 169.29999999999998V317.3H172.5"/>
<path d="M19.60 317.30H21.2M19.60 300.89H21.2M19.60 284.48H21.2M19.60 268.07H21.2M19.60 251.66H21.2M19.60 235.24H21.2M19.60 218.83H21.2M19.60 202.42H21.2M19.60 186.01H21.2M19.60 169.60H21.2M21.20 317.3V318.90M96.85 317.3V318.90M172.50 317.3V318.90"/></g>
<text class="t" x="16.80" y="319.35" text-anchor="end">0</text>
<text class="t" x="16.80" y="302.94" text-anchor="end">0.1</text>
<text class="t" x="16.80" y="286.53" text-anchor="end">0.2</text>
<text class="t" x="16.80" y="270.12" text-anchor="end">0.3</text>
<text class="t" x="16.80" y="253.71" text-anchor="end">0.4</text>
<text class="t" x="16.80" y="237.29" text-anchor="end">0.5</text>
<text class="t" x="16.80" y="220.88" text-anchor="end">0.6</text>
<text class="t" x="16.80" y="204.47" text-anchor="end">0.7</text>
<text class="t" x="16.80" y="188.06" text-anchor="end">0.8</text>
<text class="t" x="16.80" y="171.65" text-anchor="end">0.9</text>
<path d="M33.77 247.06V259.53M32.52 247.06h2.5M32.52 259.53h2.5" stroke="#1a1a1a" stroke-width="0.55" fill="none"/>
<text class="s" x="33.77" y="244.46">e</text>
<path d="M43.93 227.70V232.95M42.68 227.70h2.5M42.68 232.95h2.5" stroke="#1a1a1a" stroke-width="0.55" fill="none"/>
<text class="s" x="43.93" y="225.10">d</text>
<path d="M54.08 217.85V220.47M52.83 217.85h2.5" stroke="#1a1a1a" stroke-width="0.55" fill="none"/>
<text class="s" x="54.08" y="215.25">c</text>
<path d="M64.23 191.43V197.01M62.98 191.43h2.5M62.98 197.01h2.5" stroke="#1a1a1a" stroke-width="0.55" fill="none"/>
<text class="s" x="64.23" y="188.83">a</text>
<path d="M74.38 204.72V209.97M73.12 204.72h2.5M73.12 209.97h2.5" stroke="#1a1a1a" stroke-width="0.55" fill="none"/>
<text class="s" x="74.38" y="202.12">b</text>
<path d="M84.53 225.73V234.92M83.28 225.73h2.5M83.28 234.92h2.5" stroke="#1a1a1a" stroke-width="0.55" fill="none"/>
<text class="s" x="84.53" y="223.13">d</text>
<text class="t" x="59.15" y="325.60" text-anchor="middle">2015</text>
<path d="M108.78 260.19V272.66M107.53 260.19h2.5M107.53 272.66h2.5" stroke="#1a1a1a" stroke-width="0.55" fill="none"/>
<text class="s" x="108.78" y="257.59">f</text>
<path d="M118.93 220.97V226.55M117.68 220.97h2.5M117.68 226.55h2.5" stroke="#1a1a1a" stroke-width="0.55" fill="none"/>
<text class="s" x="118.93" y="218.37">d</text>
<path d="M129.07 211.12V213.91M127.82 211.12h2.5" stroke="#1a1a1a" stroke-width="0.55" fill="none"/>
<text class="s" x="129.07" y="208.52">c</text>
<path d="M139.22 184.37V190.93M137.97 184.37h2.5M137.97 190.93h2.5" stroke="#1a1a1a" stroke-width="0.55" fill="none"/>
<text class="s" x="139.22" y="181.77">a</text>
<path d="M149.38 197.33V202.59M148.12 197.33h2.5M148.12 202.59h2.5" stroke="#1a1a1a" stroke-width="0.55" fill="none"/>
<text class="s" x="149.38" y="194.73">b</text>
<path d="M159.52 235.41V244.93M158.27 235.41h2.5M158.27 244.93h2.5" stroke="#1a1a1a" stroke-width="0.55" fill="none"/>
<text class="s" x="159.52" y="232.81">e</text>
<text class="t" x="134.15" y="325.60" text-anchor="middle">2016</text>
<text class="yt" transform="translate(6.60 244.00) rotate(-90)" textLength="34.0" lengthAdjust="spacingAndGlyphs">Plant height (m)</text>
<text class="pl" x="50.00" y="180.70">(c)</text>
<g stroke="#6a6a6a" stroke-width="0.62" fill="none">
<path d="M198.0 168.29999999999998V316.5H346.0"/>
<path d="M196.40 316.50H198.0M196.40 291.85H198.0M196.40 267.20H198.0M196.40 242.55H198.0M196.40 217.90H198.0M196.40 193.25H198.0M196.40 168.60H198.0M198.00 316.5V318.10M272.00 316.5V318.10M346.00 316.5V318.10"/></g>
<text class="t" x="193.60" y="318.55" text-anchor="end">0</text>
<text class="t" x="193.60" y="293.90" text-anchor="end">20</text>
<text class="t" x="193.60" y="269.25" text-anchor="end">40</text>
<text class="t" x="193.60" y="244.60" text-anchor="end">60</text>
<text class="t" x="193.60" y="219.95" text-anchor="end">80</text>
<text class="t" x="193.60" y="195.30" text-anchor="end">100</text>
<text class="t" x="193.60" y="170.65" text-anchor="end">120</text>
<path d="M210.30 280.14V286.30M209.05 280.14h2.5M209.05 286.30h2.5" stroke="#1a1a1a" stroke-width="0.55" fill="none"/>
<text class="s" x="210.30" y="277.54">e</text>
<path d="M220.30 248.96V250.93M219.05 248.96h2.5M219.05 250.93h2.5" stroke="#1a1a1a" stroke-width="0.55" fill="none"/>
<text class="s" x="220.30" y="246.36">d</text>
<path d="M230.30 236.51V243.78M229.05 236.51h2.5" stroke="#1a1a1a" stroke-width="0.55" fill="none"/>
<text class="s" x="230.30" y="233.91">c</text>
<path d="M240.30 203.23V217.78M239.05 203.23h2.5M239.05 217.78h2.5" stroke="#1a1a1a" stroke-width="0.55" fill="none"/>
<text class="s" x="240.30" y="200.63">a</text>
<path d="M250.30 224.19V236.26M249.05 224.19h2.5M249.05 236.26h2.5" stroke="#1a1a1a" stroke-width="0.55" fill="none"/>
<text class="s" x="250.30" y="221.59">b</text>
<path d="M260.30 249.08V253.27M259.05 249.08h2.5M259.05 253.27h2.5" stroke="#1a1a1a" stroke-width="0.55" fill="none"/>
<text class="s" x="260.30" y="246.48">d</text>
<text class="t" x="235.30" y="325.60" text-anchor="middle">2015</text>
<path d="M283.50 285.69V290.62M282.25 285.69h2.5M282.25 290.62h2.5" stroke="#1a1a1a" stroke-width="0.55" fill="none"/>
<text class="s" x="283.50" y="283.09">f</text>
<path d="M293.50 246.49V248.47M292.25 246.49h2.5M292.25 248.47h2.5" stroke="#1a1a1a" stroke-width="0.55" fill="none"/>
<text class="s" x="293.50" y="243.89">d</text>
<path d="M303.50 221.72V228.99M302.25 221.72h2.5" stroke="#1a1a1a" stroke-width="0.55" fill="none"/>
<text class="s" x="303.50" y="219.12">c</text>
<path d="M313.50 188.32V203.11M312.25 188.32h2.5M312.25 203.11h2.5" stroke="#1a1a1a" stroke-width="0.55" fill="none"/>
<text class="s" x="313.50" y="185.72">a</text>
<path d="M323.50 211.86V223.94M322.25 211.86h2.5M322.25 223.94h2.5" stroke="#1a1a1a" stroke-width="0.55" fill="none"/>
<text class="s" x="323.50" y="209.26">b</text>
<path d="M333.50 254.01V258.20M332.25 254.01h2.5M332.25 258.20h2.5" stroke="#1a1a1a" stroke-width="0.55" fill="none"/>
<text class="s" x="333.50" y="251.41">e</text>
<text class="t" x="308.50" y="325.60" text-anchor="middle">2016</text>
<text class="yt" transform="translate(182.60 242.60) rotate(-90)" textLength="58.5" lengthAdjust="spacingAndGlyphs">Number of leaves per plant</text>
<text class="pl" x="236.30" y="180.45">(d)</text>
<g stroke="#6a6a6a" stroke-width="0.62" fill="none">
<path d="M26.5 328.09999999999997V486.9H185.5"/>
<path d="M24.90 486.90H26.5M24.90 467.09H26.5M24.90 447.27H26.5M24.90 427.46H26.5M24.90 407.65H26.5M24.90 387.84H26.5M24.90 368.02H26.5M24.90 348.21H26.5M24.90 328.40H26.5M26.50 486.9V488.50M106.00 486.9V488.50M185.50 486.9V488.50"/></g>
<text class="t" x="21.30" y="488.95" text-anchor="end">0</text>
<text class="t" x="21.30" y="469.14" text-anchor="end">0.05</text>
<text class="t" x="21.30" y="449.32" text-anchor="end">0.1</text>
<text class="t" x="21.30" y="429.51" text-anchor="end">0.15</text>
<text class="t" x="21.30" y="409.70" text-anchor="end">0.2</text>
<text class="t" x="21.30" y="389.89" text-anchor="end">0.25</text>
<text class="t" x="21.30" y="370.07" text-anchor="end">0.3</text>
<text class="t" x="21.30" y="350.26" text-anchor="end">0.35</text>
<text class="t" x="21.30" y="330.45" text-anchor="end" clip-path="url(#cl04)">0.4</text>
<path d="M39.83 415.65V423.42M38.58 415.65h2.5M38.58 423.42h2.5" stroke="#1a1a1a" stroke-width="0.55" fill="none"/>
<text class="s" x="39.83" y="413.05">e</text>
<path d="M50.48 395.76V411.61M49.23 395.76h2.5M49.23 411.61h2.5" stroke="#1a1a1a" stroke-width="0.55" fill="none"/>
<text class="s" x="50.48" y="393.16">d</text>
<path d="M61.12 379.91V387.84M59.88 379.91h2.5" stroke="#1a1a1a" stroke-width="0.55" fill="none"/>
<text class="s" x="61.12" y="377.31">c</text>
<path d="M71.78 352.29V367.91M70.53 352.29h2.5M70.53 367.91h2.5" stroke="#1a1a1a" stroke-width="0.55" fill="none"/>
<text class="s" x="71.78" y="349.69">a</text>
<path d="M82.42 368.14V383.76M81.17 368.14h2.5M81.17 383.76h2.5" stroke="#1a1a1a" stroke-width="0.55" fill="none"/>
<text class="s" x="82.42" y="365.54">b</text>
<path d="M93.08 400.00V407.37M91.83 400.00h2.5M91.83 407.37h2.5" stroke="#1a1a1a" stroke-width="0.55" fill="none"/>
<text class="s" x="93.08" y="397.40">d</text>
<text class="t" x="66.45" y="495.90" text-anchor="middle">2015</text>
<path d="M118.53 423.86V431.07M117.28 423.86h2.5M117.28 431.07h2.5" stroke="#1a1a1a" stroke-width="0.55" fill="none"/>
<text class="s" x="118.53" y="421.26">f</text>
<path d="M129.18 379.91V395.76M127.93 379.91h2.5M127.93 395.76h2.5" stroke="#1a1a1a" stroke-width="0.55" fill="none"/>
<text class="s" x="129.18" y="377.31">d</text>
<path d="M139.82 364.06V371.99M138.57 364.06h2.5" stroke="#1a1a1a" stroke-width="0.55" fill="none"/>
<text class="s" x="139.82" y="361.46">c</text>
<path d="M150.47 336.72V351.78M149.22 336.72h2.5M149.22 351.78h2.5" stroke="#1a1a1a" stroke-width="0.55" fill="none"/>
<text class="s" x="150.47" y="334.12">a</text>
<path d="M161.12 352.29V367.91M159.88 352.29h2.5M159.88 367.91h2.5" stroke="#1a1a1a" stroke-width="0.55" fill="none"/>
<text class="s" x="161.12" y="349.69">b</text>
<path d="M171.77 408.60V414.62M170.52 408.60h2.5M170.52 414.62h2.5" stroke="#1a1a1a" stroke-width="0.55" fill="none"/>
<text class="s" x="171.77" y="406.00">e</text>
<text class="t" x="145.15" y="495.90" text-anchor="middle">2016</text>
<text class="yt" transform="translate(8.40 407.40) rotate(-90)" textLength="32.4" lengthAdjust="spacingAndGlyphs">Leaf area (m<tspan font-size="3px" dy="-1.6">2</tspan><tspan dy="1.6">)</tspan></text>
<text class="pl" x="54.00" y="341.75">(e)</text>
<text x="115.3" y="507.0" text-anchor="middle" font-size="6.6px" fill="#222" stroke="#222" stroke-width="0.15" textLength="14" lengthAdjust="spacingAndGlyphs">Year</text>
<text class="lg" x="210.2" y="344.75" textLength="24.0" lengthAdjust="spacingAndGlyphs">Control</text>
<text class="lg" x="210.2" y="358.85" textLength="27.5" lengthAdjust="spacingAndGlyphs">Moringa</text>
<text class="lg" x="210.2" y="373.15" textLength="26.5" lengthAdjust="spacingAndGlyphs">Pawpaw</text>
<text class="lg" x="210.2" y="387.65" textLength="28.6" lengthAdjust="spacingAndGlyphs">Gliricidia</text>
<text class="lg" x="210.2" y="402.25" textLength="18.5" lengthAdjust="spacingAndGlyphs">Neem</text>
<text class="lg" x="210.2" y="416.75" textLength="73.2" lengthAdjust="spacingAndGlyphs">NPK 15-15-15 fertilizer</text>
</g></svg></body></html>
